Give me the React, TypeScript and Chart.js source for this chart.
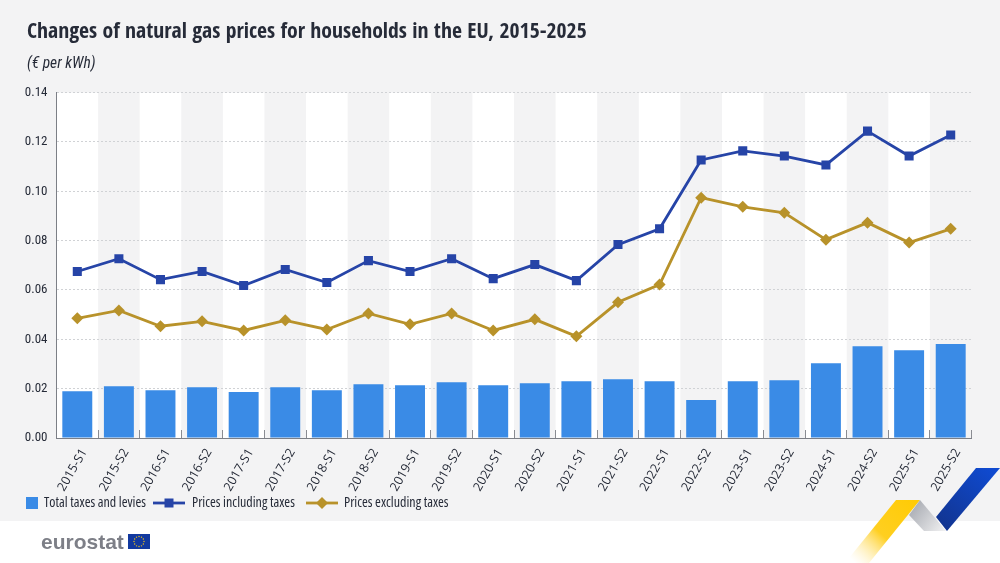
import { useEffect, useRef } from "react";
import { Chart, registerables } from "chart.js";

Chart.register(...registerables);

const periods = [
  "2015-S1", "2015-S2", "2016-S1", "2016-S2", "2017-S1", "2017-S2", "2018-S1", "2018-S2",
  "2019-S1", "2019-S2", "2020-S1", "2020-S2", "2021-S1", "2021-S2", "2022-S1", "2022-S2",
  "2023-S1", "2023-S2", "2024-S1", "2024-S2", "2025-S1", "2025-S2",
];
const totalTaxes = [
  0.019, 0.021, 0.0194, 0.0206, 0.0186, 0.0206, 0.0194, 0.0218, 0.0214, 0.0226, 0.0214,
  0.0222, 0.023, 0.0238, 0.023, 0.0154, 0.023, 0.0234, 0.0303, 0.0372, 0.0356, 0.0381,
];
const pricesIncl = [
  0.0675, 0.0727, 0.0642, 0.0675, 0.0618, 0.0683, 0.063, 0.0719, 0.0675, 0.0727, 0.0646,
  0.0703, 0.0638, 0.0784, 0.0848, 0.1127, 0.1164, 0.1143, 0.1107, 0.1244, 0.1143, 0.1228,
];
const pricesExcl = [
  0.0485, 0.0517, 0.0453, 0.0473, 0.0436, 0.0477, 0.044, 0.0505, 0.0461, 0.0505, 0.0436,
  0.0481, 0.0412, 0.055, 0.0622, 0.0974, 0.0937, 0.0913, 0.0804, 0.0873, 0.0792, 0.0848,
];

const FAMILY = '"Open Sans", sans-serif';
const TEXT = "#262b38";
const PANEL = "#f3f3f4";
const BAR = "#3a8be6";
const BLUE = "#2644a7";
const GOLD = "#b8922a";

// panel, white bands behind every other category
const backdrop = {
  id: "backdrop",
  // y labels get clipped to the scale box, give them some room on the left
  afterLayout(chart: any) {
    chart.scales.y.left = 15;
  },
  beforeDraw(chart: any) {
    const { ctx, chartArea, scales } = chart;
    ctx.save();
    ctx.fillStyle = "#ffffff";
    ctx.fillRect(0, 0, chart.width, chart.height);
    ctx.fillStyle = PANEL;
    ctx.fillRect(0, 0, chart.width, 521);
    const step = chartArea.width / periods.length;
    ctx.fillStyle = "#ffffff";
    periods.forEach((_, i) => {
      if (i % 2 === 0) {
        ctx.fillRect(scales.x.getPixelForValue(i) - step / 2, chartArea.top, step, chartArea.height);
      }
    });
    ctx.restore();
  },
};

// legend row and the logo strip under the panel
const footer = {
  id: "footer",
  afterDraw(chart: any) {
    const { ctx, data } = chart;
    const y = 503;
    ctx.save();
    ctx.textBaseline = "middle";
    ctx.textAlign = "left";
    ctx.font = `condensed 14px ${FAMILY}`;

    const bars = data.datasets[0];
    ctx.fillStyle = bars.backgroundColor;
    ctx.fillRect(26, y - 6, 12, 12);
    ctx.fillStyle = TEXT;
    ctx.fillText(bars.label, 44, y);

    const lineItem = (ds: any, x0: number, textX: number) => {
      ctx.strokeStyle = ds.borderColor;
      ctx.lineWidth = 2.8;
      ctx.beginPath();
      ctx.moveTo(x0, y);
      ctx.lineTo(x0 + 32, y);
      ctx.stroke();
      ctx.fillStyle = ds.borderColor;
      if (ds.pointStyle === "rect") {
        ctx.fillRect(x0 + 11.5, y - 4.5, 9, 9);
      } else {
        ctx.beginPath();
        ctx.moveTo(x0 + 16, y - 6);
        ctx.lineTo(x0 + 22, y);
        ctx.lineTo(x0 + 16, y + 6);
        ctx.lineTo(x0 + 10, y);
        ctx.closePath();
        ctx.fill();
      }
      ctx.fillStyle = TEXT;
      ctx.fillText(ds.label, textX, y);
    };
    lineItem(data.datasets[1], 153, 192);
    lineItem(data.datasets[2], 306, 344);

    // wordmark and flag
    ctx.font = 'bold 21px "Liberation Sans", sans-serif';
    ctx.fillStyle = "#7d7f87";
    ctx.textBaseline = "alphabetic";
    ctx.fillText("eurostat", 41, 549);
    ctx.fillStyle = "#12399f";
    ctx.fillRect(128, 534, 22, 15);
    ctx.fillStyle = "#f2c418";
    for (let i = 0; i < 12; i++) {
      const a = (i * Math.PI) / 6;
      ctx.beginPath();
      ctx.arc(139 + Math.cos(a) * 5, 541.5 + Math.sin(a) * 5, 0.7, 0, Math.PI * 2);
      ctx.fill();
    }

    // ribbon
    const poly = (pts: number[][], fill: any) => {
      ctx.fillStyle = fill;
      ctx.beginPath();
      pts.forEach(([px, py], i) => (i ? ctx.lineTo(px, py) : ctx.moveTo(px, py)));
      ctx.closePath();
      ctx.fill();
    };
    const yellow = ctx.createLinearGradient(915, 500, 855, 563);
    yellow.addColorStop(0, "#ffcb05");
    yellow.addColorStop(0.55, "#ffcf20");
    yellow.addColorStop(1, "rgba(255,235,170,0)");
    poly([[896, 500], [920, 500], [869, 563], [845, 563]], yellow);
    const grey = ctx.createLinearGradient(912, 505, 945, 530);
    grey.addColorStop(0, "#a9acb3");
    grey.addColorStop(1, "#f0f0f1");
    poly([[920, 500], [946, 531], [924, 531], [909, 515]], grey);
    const blue = ctx.createLinearGradient(990, 468, 940, 528);
    blue.addColorStop(0, "#0f4ad0");
    blue.addColorStop(1, "#12348f");
    poly([[976, 468], [1000, 468], [947, 531], [936, 517]], blue);
    ctx.restore();
  },
};

export default function App() {
  const canvasRef = useRef<HTMLCanvasElement | null>(null);

  useEffect(() => {
    const ctx = canvasRef.current?.getContext("2d");
    if (!ctx) return;

    const chart = new Chart(ctx, {
      type: "bar",
      data: {
        labels: periods,
        datasets: [
          {
            label: "Total taxes and levies",
            data: totalTaxes,
            backgroundColor: BAR,
            barPercentage: 0.72,
            categoryPercentage: 1,
            order: 3,
          },
          {
            type: "line",
            label: "Prices including taxes",
            data: pricesIncl,
            borderColor: BLUE,
            backgroundColor: BLUE,
            borderWidth: 2.8,
            pointStyle: "rect",
            pointRadius: 6.4,
            pointBorderWidth: 0,
            tension: 0,
            order: 1,
          },
          {
            type: "line",
            label: "Prices excluding taxes",
            data: pricesExcl,
            borderColor: GOLD,
            backgroundColor: GOLD,
            borderWidth: 2.8,
            pointStyle: "rectRot",
            pointRadius: 6,
            pointBorderWidth: 0,
            tension: 0,
            order: 2,
          },
        ] as any,
      },
      options: {
        responsive: false,
        animation: false,
        devicePixelRatio: 1,
        layout: { padding: { left: 27, right: 28.5, top: 19, bottom: 0 } },
        plugins: {
          legend: { display: false },
          tooltip: { enabled: false },
          title: {
            display: true,
            text: "Changes of natural gas prices for households in the EU, 2015-2025",
            align: "start",
            color: TEXT,
            font: { family: '"Open Sans Condensed", sans-serif', size: 21.7, weight: "bold" },
            padding: { top: 0, bottom: 10 },
          },
          subtitle: {
            display: true,
            text: "(€ per kWh)",
            align: "start",
            color: TEXT,
            font: { family: '"Roboto Condensed", sans-serif', size: 15.5, style: "italic" },
            padding: { top: 0, bottom: 19 },
          },
        },
        scales: {
          x: {
            offset: true,
            afterFit: (scale: any) => {
              scale.height = 125;
            },
            border: { color: "#7c7f86", width: 1 },
            grid: { offset: true, drawOnChartArea: false, tickLength: -8, tickColor: "#8a8c92", tickWidth: 1 },
            ticks: {
              autoSkip: false,
              maxRotation: 60,
              minRotation: 60,
              padding: 16,
              labelOffset: 7,
              color: TEXT,
              // chart.js puts style first in the font string, so stretch can ride along
              font: { family: FAMILY, size: 12.5, style: "condensed" },
            },
          },
          y: {
            min: 0,
            max: 0.14,
            afterFit: (scale: any) => {
              scale.width = 29.5;
            },
            border: { color: "#7c7f86", width: 1, dash: [2, 2] },
            grid: { color: "#d0d2d5", lineWidth: 1, drawTicks: false },
            ticks: {
              stepSize: 0.02,
              padding: 9,
              color: TEXT,
              font: { family: '"Roboto Condensed", sans-serif', size: 13 },
              callback: (v: any) => Number(v).toFixed(2),
            },
          },
        },
      } as any,
      plugins: [backdrop, footer],
    });

    return () => {
      chart.destroy();
    };
  }, []);

  return (
    <div style={{ position: "absolute", left: 0, top: 0 }}>
      <canvas ref={canvasRef} width={1000} height={563} style={{ display: "block" }} />
    </div>
  );
}
